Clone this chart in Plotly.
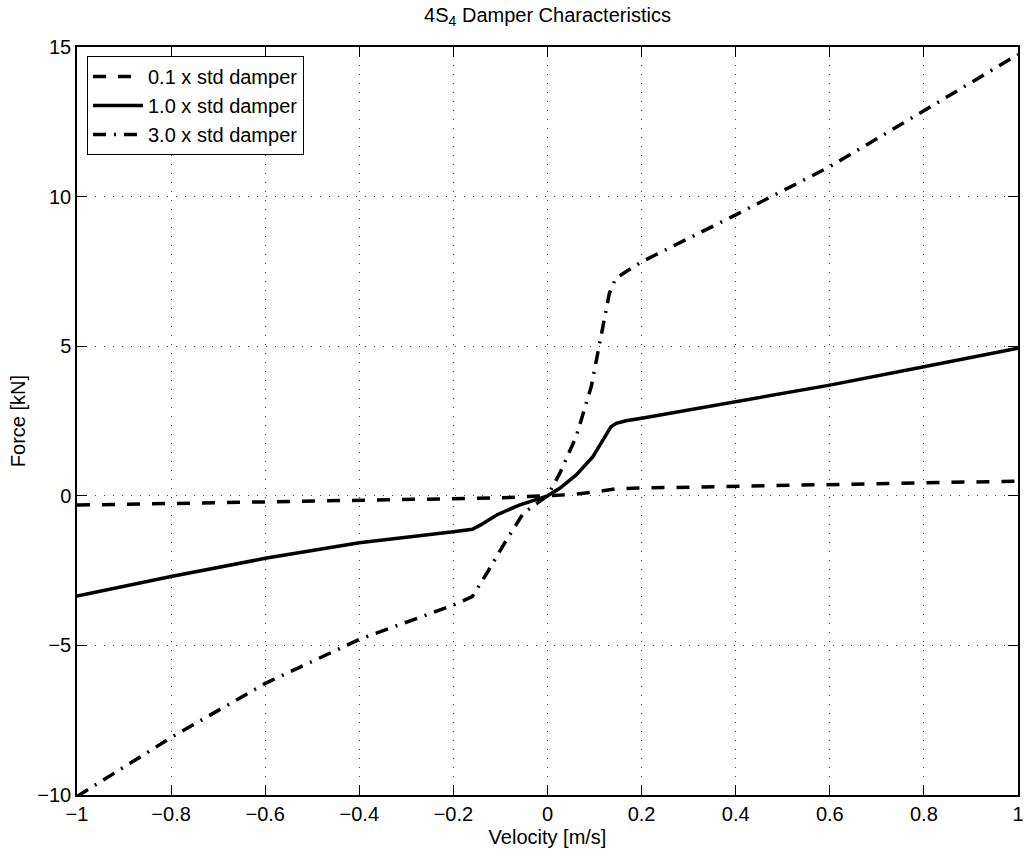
import plotly.graph_objects as go

# Damper force-velocity characteristics (velocity in m/s, force in kN)
vel_01 = [-1.0, -0.8, -0.6, -0.4, -0.2, -0.16, -0.10, -0.05, 0.0, 0.05, 0.10, 0.145, 0.2, 0.4, 0.6, 0.8, 1.0]
force_01 = [-0.31, -0.26, -0.21, -0.16, -0.12, -0.11, -0.07, -0.03, 0.0, 0.04, 0.13, 0.23, 0.26, 0.32, 0.38, 0.44, 0.49]

vel_10 = [-1.0, -0.8, -0.6, -0.4, -0.2, -0.16, -0.143, -0.108, -0.06, -0.009, 0.0, 0.026, 0.061,
          0.0965, 0.135, 0.146, 0.167, 0.2, 0.4, 0.6, 0.8, 1.0]
force_10 = [-3.35, -2.70, -2.09, -1.57, -1.20, -1.12, -0.98, -0.64, -0.31, -0.03, 0.0, 0.25, 0.70,
            1.31, 2.31, 2.42, 2.51, 2.59, 3.15, 3.70, 4.31, 4.93]

vel_30 = [-1.0, -0.8, -0.6, -0.4, -0.2, -0.16, -0.129, -0.0935, -0.0513, -0.009, 0.0, 0.026, 0.061,
          0.093, 0.114, 0.1315, 0.145, 0.2, 0.4, 0.6, 0.8, 1.0]
force_30 = [-10.05, -8.08, -6.27, -4.80, -3.65, -3.37, -2.59, -1.64, -0.58, -0.08, 0.0, 0.75, 1.98,
            3.65, 5.32, 6.77, 7.27, 7.82, 9.39, 11.0, 12.87, 14.75]

series_names = ["0.1 x std damper", "1.0 x std damper", "3.0 x std damper"]
x_ticks = [-1, -0.8, -0.6, -0.4, -0.2, 0, 0.2, 0.4, 0.6, 0.8, 1]
y_ticks = [-10, -5, 0, 5, 10, 15]

FONT = "Liberation Sans, Arial, Helvetica, sans-serif"
FS = 20
LW = 3.5


def tick_text(vals):
    return [f"{v:g}".replace("-", "\u2212") for v in vals]


fig = go.Figure()
fig.add_trace(go.Scatter(x=vel_01, y=force_01, mode="lines", name=series_names[0],
                         line=dict(color="black", width=LW, dash="13px,12px")))
fig.add_trace(go.Scatter(x=vel_10, y=force_10, mode="lines", name=series_names[1],
                         line=dict(color="black", width=LW)))
fig.add_trace(go.Scatter(x=vel_30, y=force_30, mode="lines", name=series_names[2],
                         line=dict(color="black", width=LW, dash="13px,8px,2px,8px")))

axis_common = dict(
    showline=True, linecolor="black", linewidth=1.5, mirror="ticks",
    ticks="inside", ticklen=10, tickwidth=1, tickcolor="black",
    showgrid=True, gridcolor="#444444", gridwidth=1, griddash="1px,8px",
    zeroline=False, tickfont=dict(family=FONT, size=FS, color="black"),
)

fig.update_xaxes(range=[-1, 1], tickvals=x_ticks, ticktext=tick_text(x_ticks),
                 title=dict(text="Velocity [m/s]", font=dict(family=FONT, size=FS, color="black"), standoff=6),
                 **axis_common)
fig.update_yaxes(range=[-10, 15], tickvals=y_ticks, ticktext=tick_text(y_ticks),
                 title=dict(text="Force [kN]", font=dict(family=FONT, size=FS, color="black"), standoff=6),
                 **axis_common)

fig.update_layout(
    width=1029, height=856,
    margin=dict(l=77, r=5, t=47, b=61),
    paper_bgcolor="white", plot_bgcolor="white",
    font=dict(family=FONT, size=FS, color="black"),
    title=dict(text="4S<sub>4</sub> Damper Characteristics", x=0.5, xref="paper",
               y=1 - 15 / 856, yref="container", xanchor="center", yanchor="middle",
               font=dict(family=FONT, size=FS, color="black")),
    legend=dict(x=0.0106, y=0.988, xanchor="left", yanchor="top",
                bgcolor="white", bordercolor="black", borderwidth=1,
                font=dict(family=FONT, size=FS, color="black"),
                itemwidth=50, tracegroupgap=0),
    showlegend=True,
)

fig.write_html("out.html")
